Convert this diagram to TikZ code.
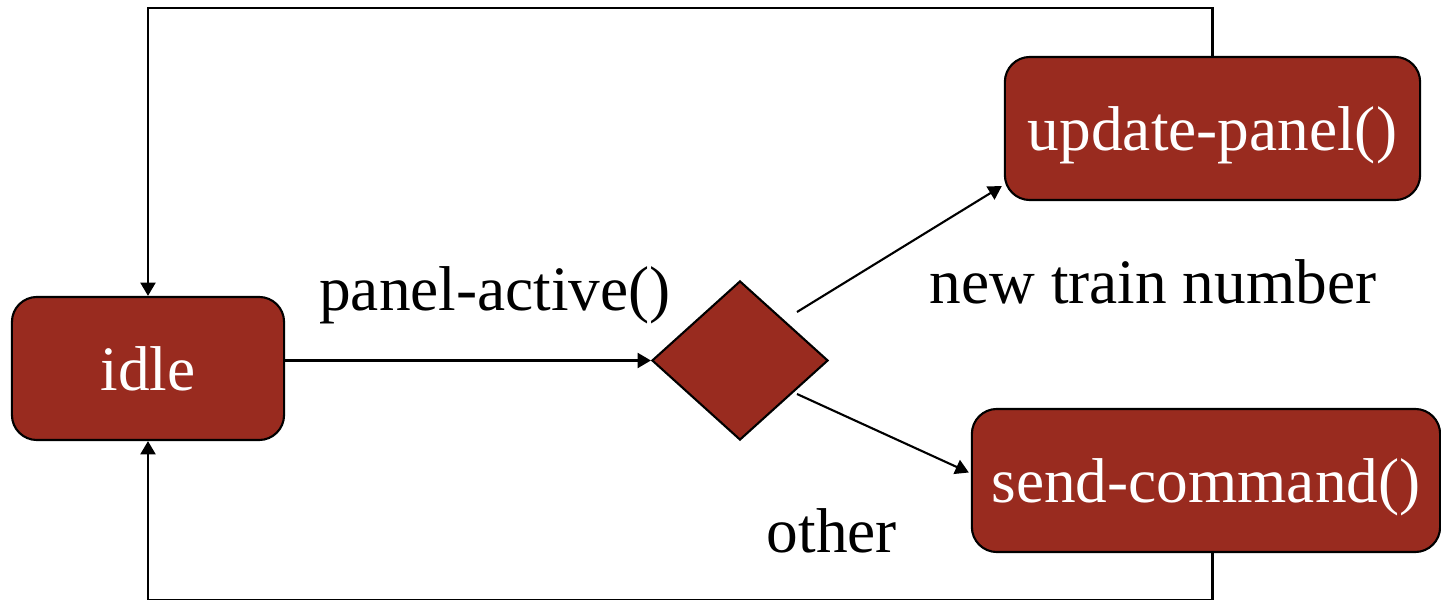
\documentclass[tikz,border=0pt]{standalone}
\usepackage{fontspec}
\setmainfont{Liberation Serif}
\usetikzlibrary{arrows.meta,shapes.geometric}
\definecolor{boxred}{RGB}{153,43,31}
\begin{document}
\begin{tikzpicture}[x=0.01cm,y=0.01cm,
    font=\fontsize{18}{22}\selectfont,
    state/.style={draw=black,line width=0.6pt,fill=boxred,text=white,
      rounded corners=0.25cm,inner sep=0pt,minimum height=1.43cm,text depth=0pt},
    choice/.style={diamond,draw=black,line width=0.6pt,fill=boxred,
      inner sep=0pt,minimum width=1.76cm,minimum height=1.59cm},
    guard/.style={anchor=base}]
  \useasboundingbox (0,0) rectangle (1441,600);
  \draw
    (148,231.5) node[state,minimum width=2.72cm] (idle){idle}
    (740,239.5) node[choice] (dia){}
    (1212.5,471.5) node[state,minimum width=4.15cm] (upd){update-panel()}
    (1206,119.5) node[state,minimum width=4.68cm] (snd){send-command()};
  \coordinate (hi) at (797,288);
  \coordinate (lo) at (797,206);
  \path
    (495,289) node[guard] (pa){panel-active()}
    (1153,296) node[guard] (ntn){new train number}
    (832,47) node[guard] (oth){other};
  \begin{scope}[-{Triangle[length=3.8pt,width=4.3pt]},line width=0.6pt]
    \draw (idle.east |- dia.west) to (dia.west);
    \draw (hi) to ([shift={(-2,15)}]upd.south west);
    \draw (lo) to ([shift={(-2,8)}]snd.west);
    \draw (upd.north) -- ++(0,48) -| (idle.north);
    \draw (upd.north |- snd.south) -- ++(0,-47) -| (idle.south);
  \end{scope}
\end{tikzpicture}
\end{document}
